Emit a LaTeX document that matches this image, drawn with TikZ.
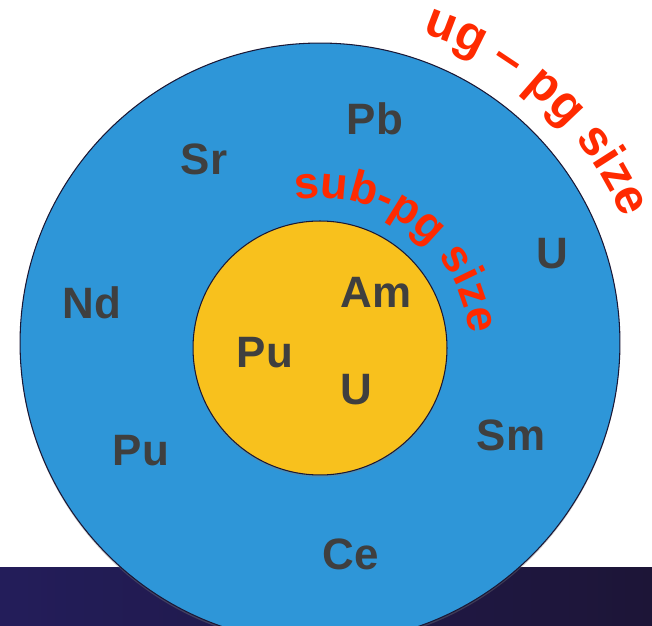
\documentclass[tikz,border=0pt]{standalone}
\usepackage{fontspec}
\setmainfont{Liberation Sans}
\usepackage{xcolor}
\usepackage{tikz}
\usetikzlibrary{decorations.text}
\usetikzlibrary{shadows}
\definecolor{ringblue}{HTML}{2E96D8}
\definecolor{coreyellow}{HTML}{F8C11D}
\definecolor{elgray}{HTML}{3F3F3F}
\definecolor{labelred}{HTML}{FF2A00}
\definecolor{bandleft}{HTML}{231D5A}
\definecolor{bandright}{HTML}{1D1537}
\definecolor{rimline}{HTML}{1A1836}
\newcommand{\elfont}{\fontsize{25}{30}\selectfont\bfseries}
\newcommand{\ugfont}{\fontsize{28}{32}\selectfont\bfseries\color{labelred}}
\newcommand{\subfont}{\fontsize{25.5}{30}\selectfont\bfseries\color{labelred}}
\tikzset{
    el_node/.style = {align=center, inner sep=0pt, text=elgray, font=\elfont},
    ring_node/.style = {circle, inner sep=0pt, draw=rimline, line width=0.6pt,
        drop shadow={shadow xshift=0pt, shadow yshift=-1.2pt, opacity=0.35}},
    ug_ring/.style = {ring_node, fill=ringblue, minimum size=12cm},
    sub_ring/.style = {ring_node, fill=coreyellow, minimum size=5.08cm}
}
\begin{document}
\begin{tikzpicture}[x=0.02cm, y=0.02cm]
    \useasboundingbox (0,0) rectangle (652,625);
    % dark band behind the rings
    \shade[left color=bandleft, right color=bandright] (0,0) rectangle (652,57);
    \node [ug_ring] (ug) at (320,282) {};
    \node [sub_ring] (sub) at (320,277) {};
    % elements in the ug - pg ring
    \node [el_node] (pb) at (375,506) {Pb};
    \node [el_node] (sr) at (204,466) {Sr};
    \node [el_node] (nd) at (92,322) {Nd};
    \node [el_node] (puout) at (141,174) {Pu};
    \node [el_node] (ce) at (351,71) {Ce};
    \node [el_node] (sm) at (511,190) {Sm};
    \node [el_node] (uout) at (552,371) {U};
    % elements in the sub-pg core
    \node [el_node] (am) at (376,333) {Am};
    \node [el_node] (puin) at (265,272) {Pu};
    \node [el_node] (uin) at (356,235) {U};
    % curved size labels
    \path [decorate, decoration={text along path, text align=center,
        text={|\ugfont|ug {\textendash} pg size}}]
        (ug.center) ++(80:327) arc [start angle=80, end angle=14, radius=327];
    \path [decorate, decoration={text along path, text align=center,
        text={|\subfont|sub-pg size}}]
        (sub.center) ++(105:150) arc [start angle=105, end angle=0, radius=150];
\end{tikzpicture}
\end{document}
